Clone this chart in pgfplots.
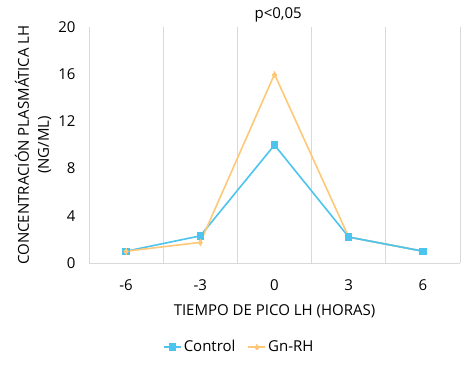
\documentclass[border=0pt]{standalone}
\usepackage{pgfplots}
\pgfplotsset{compat=1.18}
\usepackage{fontspec}
\setmainfont{Open Sans}
\definecolor{ctrl}{HTML}{4CC4EE}
\definecolor{gnrh}{HTML}{FFC878}
\definecolor{gridc}{HTML}{D9D9D9}
\begin{document}
\begin{tikzpicture}[x=1pt,y=1pt]
\useasboundingbox (-89,-102) rectangle (381,263);
\begin{axis}[at={(0,0)}, anchor=south west, scale only axis, width=371pt, height=236pt,
 xmin=-0.5, xmax=4.5, ymin=0, ymax=20, ytick={0,4,...,20}, xtick={0,...,4}, xticklabels={-6,-3,0,3,6},
 minor xtick={-0.5,0.5,...,4.5}, xminorgrids, minor grid style={gridc, line width=0.9pt},
 axis x line*=bottom, axis y line*=left, x axis line style={gridc, line width=0.9pt, -}, y axis line style={draw=none},
 major tick length=0pt, minor tick length=0pt,
 /pgf/number format/assume math mode=true,
 ticklabel style={font=\fontsize{15}{17}\selectfont, text=black},
 xticklabel style={yshift=-13pt},
 yticklabel style={xshift=-10pt},
 xlabel={TIEMPO DE PICO LH (HORAS)},
 xlabel style={font=\fontsize{15}{17}\selectfont, text=black, at={(0.5,-0.205)}, anchor=center},
 ylabel={CONCENTRACIÓN PLASMÁTICA LH\\(NG/ML)},
 ylabel style={font=\fontsize{15}{20}\selectfont, text=black, align=center, at={(-0.151,0.5)}, anchor=center},
 title={p<0,05},
 title style={font=\fontsize{15}{17}\selectfont, text=black, at={(0.51,1)}, anchor=south, yshift=-5pt},
 legend columns=2,
 legend style={draw=none, at={(0.405,-0.356)}, anchor=center, font=\fontsize{15}{17}\selectfont, text=black, /tikz/every even column/.append style={column sep=10pt}},
 clip=false,
]
\addplot[color=ctrl, line width=1.6pt, mark=square*, mark size=3.2pt, mark options={fill=ctrl, draw=ctrl, line width=0pt}] coordinates {(0,1.0) (1,2.3) (2,10.0) (3,2.2) (4,1.0)};
\addlegendentry{Control}
\addplot[color=gnrh, line width=1.6pt, mark=diamond*, mark size=2.8pt, mark options={fill=gnrh, draw=gnrh, line width=0pt}] coordinates {(0,1.0) (1,1.75) (2,16.0) (3,2.2) (4,1.0)};
\addlegendentry{Gn-RH}
\addplot[color=ctrl, line width=1.6pt, mark=square*, mark size=3.2pt, mark options={fill=ctrl, draw=ctrl, line width=0pt}, forget plot] coordinates {(3,2.2) (4,1.0)};
\end{axis}
\end{tikzpicture}
\end{document}
